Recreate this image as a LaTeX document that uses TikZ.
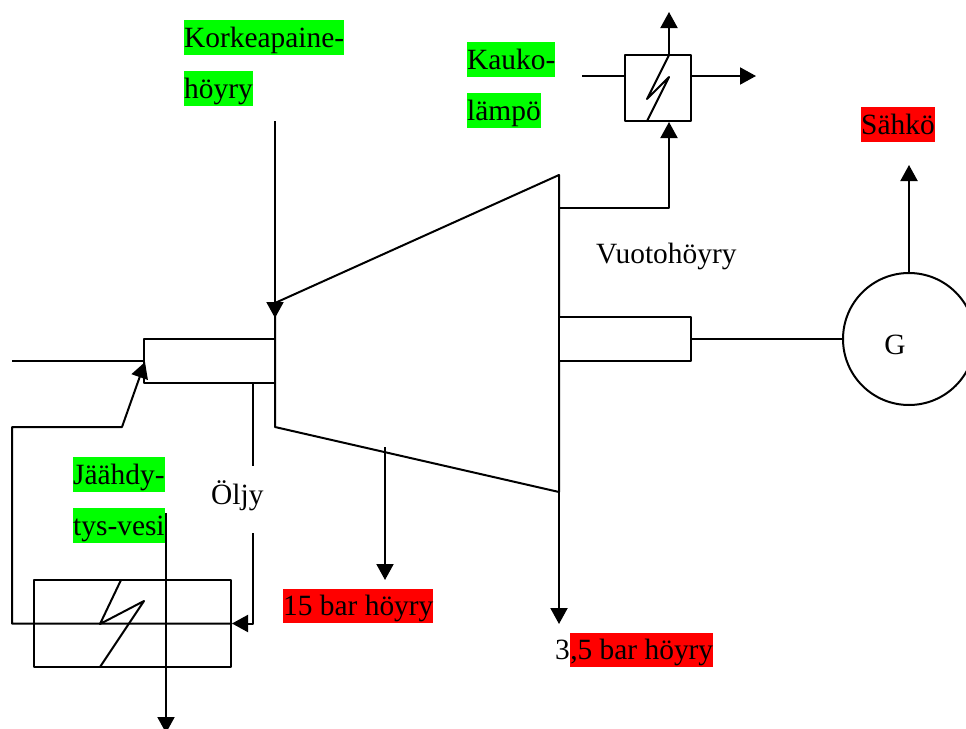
\documentclass[tikz,border=0pt]{standalone}
\usepackage{fontspec}
\setmainfont{Liberation Serif}
\usetikzlibrary{arrows.meta,calc}
\definecolor{hlgreen}{RGB}{0,255,0}
\definecolor{hlred}{RGB}{255,0,0}
\tikzset{
  px/.style={x=1pt,y=-1pt},
  line/.style={draw=black,line width=2pt,line join=round},
  flow/.style={line,-{Triangle[width=17pt,length=16pt]},shorten >=0pt},
  lbl/.style={anchor=base west,inner sep=0pt,font=\fontsize{29.4pt}{33pt}\selectfont,text height=27pt,text depth=7.5pt},
  grn/.style={lbl,fill=hlgreen},
  rd/.style={lbl,fill=hlred},
  boxnode/.style={line,fill=white,inner sep=0pt,minimum width=#1},
}
\begin{document}
\begin{tikzpicture}[px]
\useasboundingbox (0,0) rectangle (966,728);
\clip (0,0) rectangle (966,728);
% labels first (connector crosses the highlighted text)
\node[grn] (korkea) at (184,47) {Korkeapaine-};
\node[grn] (hoyry) at (184,98) {höyry};
\node[grn] (kauko) at (467,69) {Kauko-};
\node[grn] (lampo) at (467,120) {lämpö};
\node[grn] (jaah) at (73,484) {Jäähdy-};
\node[grn] (tys) at (73,535) {tys-vesi};
\node[rd] (bar15) at (283,615.5) {15 bar höyry};
\node[lbl] (three) at (555,659.5) {3};
\node[rd,anchor=base west] (bar35) at (three.base east) {,5 bar höyry};
\node[rd] (sahko) at (861,134) {Sähkö};
\node[lbl] (vuoto) at (596,263) {Vuotohöyry};
% turbine
\coordinate (t1) at (275,303);
\coordinate (t2) at (559,175);
\coordinate (t3) at (559,492);
\coordinate (t4) at (275,427);
\draw[line] (t1) -- (t2) -- (t3) -- (t4) -- cycle;
% shafts
\node[boxnode=131pt,minimum height=44pt] (shaftL) at (209.5,361) {};
\node[boxnode=132pt,minimum height=44pt] (shaftR) at (625,339) {};
% generator
\node[line,circle,inner sep=0pt,minimum size=132pt] (gen) at (909,339) {};
\node[inner sep=0pt,font=\fontsize{29.4pt}{33pt}\selectfont] (gtxt) at (895,345) {G};
\draw[line] (shaftR.east) -- (gen.west);
% sähkö output
\coordinate (sahkoTip) at (909,165);
\draw[flow] (gen.north) -- (sahkoTip);
% high pressure steam
\coordinate (hpStart) at (275,121);
\coordinate (hpTip) at (275,318);
\draw[flow] (hpStart) -- (hpTip);
% shaft left feed
\coordinate (feed) at (12,361);
\draw[line] (feed) -- (shaftL.west);
% cooler
\node[boxnode=197pt,minimum height=87pt,fill=none] (cooler) at (132.5,623.5) {};
\coordinate (z1) at (121,580);
\coordinate (z2) at (100,624);
\coordinate (z3) at (144,601);
\coordinate (z4) at (100,667);
\draw[line] (z1) -- (z2) -- (z3) -- (z4);
% oil circuit
\coordinate (oilTop) at (253,383);
\coordinate (oilCorner) at (253,623.5);
\draw[flow] (oilTop) -- (oilCorner) -- (cooler.east);
\coordinate (r1) at (12,623.5);
\coordinate (r2) at (12,427);
\coordinate (r3) at (122,427);
\coordinate (rTip) at (145,362);
\draw[flow] (cooler.east) -- (r1) -- (r2) -- (r3) -- (rTip);
\node[fill=white,inner sep=0pt,minimum width=56pt,minimum height=67pt] (oil) at (237,499.5) {};
\node[lbl] (oiltxt) at (211,504) {Öljy};
% cooling water
\coordinate (cwStart) at (166,513);
\coordinate (cwTip) at (166,733);
\draw[flow] (cwStart) -- (cwTip);
% extraction lines
\coordinate (e15a) at (385,447);
\coordinate (e15b) at (385,580);
\draw[flow] (e15a) -- (e15b);
\coordinate (e35b) at (559,624);
\draw[flow] (t3) -- (e35b);
% district heat exchanger
\node[boxnode=66pt,minimum height=66pt] (khx) at (658,88) {};
\coordinate (kin) at (582,76);
\coordinate (kout) at (756,76);
\coordinate (kup) at (669,12);
\coordinate (ktop) at (669,55);
\coordinate (kbot) at (647,121);
\coordinate (kz2) at (647,99);
\coordinate (kz3) at (669,77);
\draw[line] (kin) -- (khx.west |- kin);
\draw[flow] (khx.east |- kout) -- (kout);
\draw[flow] (ktop) -- (kup);
\draw[line] (ktop) -- (kz2) -- (kz3) -- (kbot);
\coordinate (lk1) at (559,208);
\coordinate (lk2) at (669,208);
\coordinate (lk3) at (669,122);
\draw[flow] (lk1) -- (lk2) -- (lk3);
\end{tikzpicture}
\end{document}
